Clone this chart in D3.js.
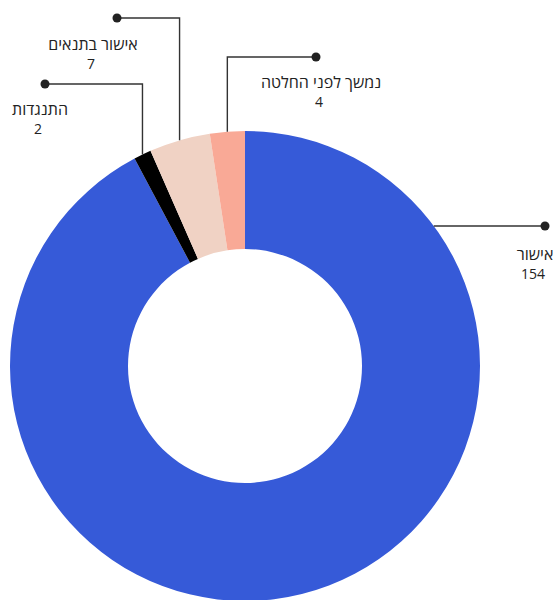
<!DOCTYPE html>
<html lang="he">
<head>
<meta charset="utf-8">
<script src="https://cdn.jsdelivr.net/npm/d3@7"></script>
<style>
  body { margin: 0; background: #fff; }
  svg { display: block; font-family: "Open Sans", "Liberation Sans", "DejaVu Sans", sans-serif; }
</style>
</head>
<body>
<div id="chart"></div>
<script>
// Data
const categories = ['אישור', 'התנגדות', 'אישור בתנאים', 'נמשך לפני החלטה'];
const values = [154, 2, 7, 4];
const colors = ['#365ad8', '#000000', '#f0d2c4', '#f9a996'];

// Label layout: where the leader ends (dot) and where the text sits
const labelLayout = [
    { mode: 'h', dotX: 545, dotY: 226, textX: 535, textY: 260 },
    { mode: 'v', dotX: 45,  dotY: 84,  textX: 40,  textY: 115 },
    { mode: 'v', dotX: 117, dotY: 18,  textX: 93,  textY: 50 },
    { mode: 'v', dotX: 316, dotY: 57,  textX: 321, textY: 88 }
];

const width = 553;
const height = 600;
const cx = 245;
const cy = 366;
const outerR = 235;
const innerR = 117;

const svg = d3.select('#chart')
    .append('svg')
    .attr('width', width)
    .attr('height', height);

const data = categories.map((c, i) => ({ name: c, value: values[i], color: colors[i], layout: labelLayout[i] }));

const pie = d3.pie()
    .sort(null)
    .value(d => d.value);

const arc = d3.arc()
    .innerRadius(innerR)
    .outerRadius(outerR);

const arcs = pie(data);

const g = svg.append('g')
    .attr('transform', `translate(${cx},${cy})`);

// Slices
g.selectAll('path.slice')
    .data(arcs)
    .enter()
    .append('path')
    .attr('class', 'slice')
    .attr('d', arc)
    .attr('fill', d => d.data.color);

// Leader lines
function leaderPath(d) {
    const L = d.data.layout;
    if (L.mode === 'h') {
        const dy = L.dotY - cy;
        const x = cx + Math.sqrt(outerR * outerR - dy * dy);
        return `M${x},${L.dotY}H${L.dotX}`;
    }
    const mid = (d.startAngle + d.endAngle) / 2;
    const x = cx + outerR * Math.sin(mid);
    const y = cy - outerR * Math.cos(mid);
    return `M${x},${y}V${L.dotY}H${L.dotX}`;
}

const labels = svg.append('g').attr('class', 'labels');

labels.selectAll('path.leader')
    .data(arcs)
    .enter()
    .append('path')
    .attr('class', 'leader')
    .attr('d', leaderPath)
    .attr('fill', 'none')
    .attr('stroke', '#333')
    .attr('stroke-width', 1.4);

labels.selectAll('circle.dot')
    .data(arcs)
    .enter()
    .append('circle')
    .attr('class', 'dot')
    .attr('cx', d => d.data.layout.dotX)
    .attr('cy', d => d.data.layout.dotY)
    .attr('r', 4.5)
    .attr('fill', '#222');

const text = labels.selectAll('text.label')
    .data(arcs)
    .enter()
    .append('text')
    .attr('class', 'label')
    .attr('text-anchor', 'middle')
    .attr('font-size', '16px')
    .attr('fill', '#222');

text.append('tspan')
    .attr('x', d => d.data.layout.textX)
    .attr('y', d => d.data.layout.textY)
    .text(d => d.data.name);

text.append('tspan')
    .attr('x', d => d.data.layout.textX - 2)
    .attr('y', d => d.data.layout.textY + 19)
    .attr('font-size', '14px')
    .text(d => d.data.value);
</script>
</body>
</html>
